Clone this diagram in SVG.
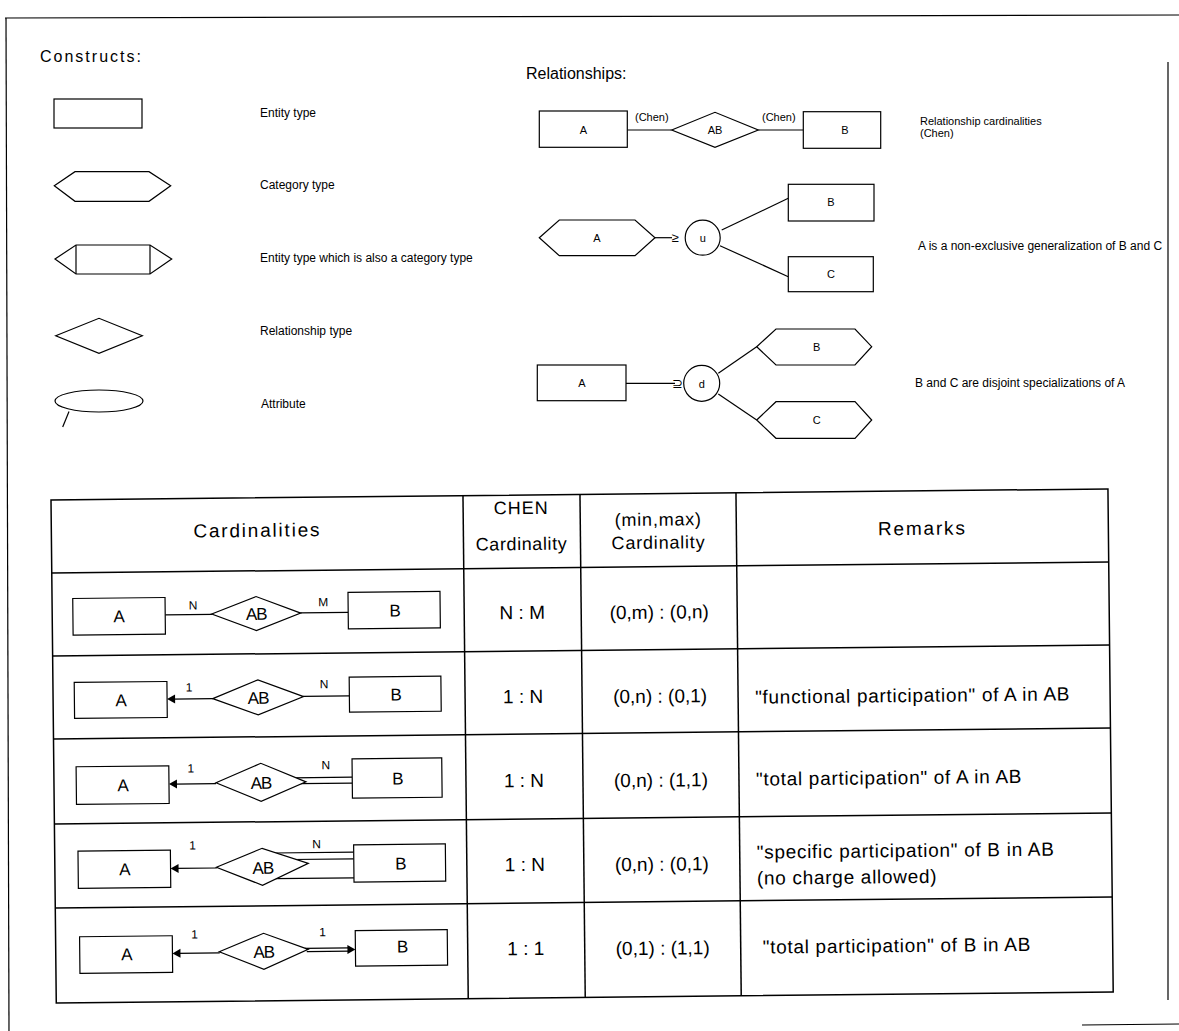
<svg xmlns="http://www.w3.org/2000/svg" width="1179" height="1031" viewBox="0 0 1179 1031">
<style>
text{font-family:"Liberation Sans",Arial,Helvetica,sans-serif;fill:#000}
.ln{stroke:#000;stroke-width:1.2;fill:none}
.sh{fill:#fff;stroke:#000;stroke-width:1.2}
.tb{stroke:#000;stroke-width:1.5;fill:none}
.title{font-size:16px;letter-spacing:2px}
.lbl{font-size:12px}
.sm{font-size:11px}
.c{text-anchor:middle}
.big{font-size:17px}
.card{font-size:12px}
.hd{font-size:19px;letter-spacing:1.8px}
.cell{font-size:19px}
.rm{font-size:19px;letter-spacing:0.7px}
</style>
<defs>
<path id="ahL" d="M0,0 L8,-4.5 L8,4.5 Z"/>
<path id="ahR" d="M0,0 L-8,-4.5 L-8,4.5 Z"/>
</defs>
<rect x="0" y="0" width="1179" height="1031" fill="#fff"/>

<!-- page frame -->
<g id="frame">
<line class="ln" x1="5" y1="18" x2="1179" y2="15"/>
<line class="ln" x1="6" y1="18" x2="9" y2="1031"/>
<line class="ln" x1="1168" y1="62" x2="1168" y2="1000" stroke-width="1"/>
<line class="ln" x1="1082" y1="1025" x2="1179" y2="1024"/>
</g>

<!-- Constructs -->
<text class="title" x="40" y="62">Constructs:</text>
<g id="c-entity"><rect class="sh" x="54" y="99" width="88" height="29"/></g>
<text class="lbl" x="260" y="117">Entity type</text>
<g id="c-category"><polygon class="sh" points="54.3,185.7 75,171.7 149,171.7 170.7,185.7 149,201.3 75,201.3"/></g>
<text class="lbl" x="260" y="189">Category type</text>
<g id="c-entcat"><polygon class="sh" points="55,259 76,245 150,245 171.7,259 150,274 76,274"/><line class="ln" x1="76" y1="245" x2="76" y2="274"/><line class="ln" x1="150" y1="245" x2="150" y2="274"/></g>
<text class="lbl" x="260" y="262">Entity type which is also a category type</text>
<g id="c-rel"><polygon class="sh" points="55.7,335.7 99,318.3 142.3,335.7 99,353.3"/></g>
<text class="lbl" x="260" y="335">Relationship type</text>
<g id="c-attr"><ellipse class="sh" cx="99" cy="401" rx="44" ry="11"/><line class="ln" x1="69" y1="411.5" x2="62.7" y2="427"/></g>
<text class="lbl" x="261" y="408">Attribute</text>

<!-- Relationships -->
<text class="title" x="526" y="79" style="letter-spacing:0px">Relationships:</text>

<g id="connectors">
<line class="ln" x1="627.3" y1="130" x2="671.7" y2="130"/>
<line class="ln" x1="758.3" y1="130" x2="803.3" y2="130"/>
<line class="ln" x1="655" y1="237.7" x2="672" y2="237.7"/>
<line class="ln" x1="721.7" y1="230" x2="788.3" y2="198.3"/>
<line class="ln" x1="720" y1="245.7" x2="788.3" y2="276.7"/>
<line class="ln" x1="626" y1="383.3" x2="675" y2="383.3"/>
<line class="ln" x1="718.3" y1="373.3" x2="756.7" y2="346.7"/>
<line class="ln" x1="718.3" y1="394" x2="756.7" y2="420"/>
</g>
<text class="sm" x="635" y="121">(Chen)</text>
<text class="sm" x="762" y="121">(Chen)</text>
<text x="675" y="242" style="font-size:13px" class="c">≥</text>
<text x="677" y="388" style="font-size:13px" class="c">⊇</text>

<g id="r1-A"><rect class="sh" x="539.3" y="111" width="88" height="36.3"/><text class="sm c" x="583.3" y="133.5">A</text></g>
<g id="r1-AB"><polygon class="sh" points="671.7,130 715,112.3 758.3,130 715,147.3"/><text class="sm c" x="715" y="134">AB</text></g>
<g id="r1-B"><rect class="sh" x="803.3" y="111.7" width="77.4" height="36.6"/><text class="sm c" x="845" y="134">B</text></g>
<text class="sm" x="920" y="125">Relationship cardinalities</text>
<text class="sm" x="920" y="137">(Chen)</text>

<g id="r2-A"><polygon class="sh" points="539.3,237.7 559.3,220 635,220 655,237.7 635,255.7 559.3,255.7"/><text class="sm c" x="597" y="241.5">A</text></g>
<g id="r2-u"><circle class="sh" cx="702.7" cy="237.7" r="17.5"/><text class="sm c" x="702.7" y="241.5">u</text></g>
<g id="r2-B"><rect class="sh" x="788.3" y="184.3" width="85.7" height="36.7"/><text class="sm c" x="831" y="206">B</text></g>
<g id="r2-C"><rect class="sh" x="788.3" y="256.7" width="85" height="35"/><text class="sm c" x="831" y="278">C</text></g>
<text class="lbl" x="918" y="250">A is a non-exclusive generalization of B and C</text>

<g id="r3-A"><rect class="sh" x="537.3" y="365" width="88.7" height="35.7"/><text class="sm c" x="582" y="387">A</text></g>
<g id="r3-d"><circle class="sh" cx="701.7" cy="383.3" r="18"/><text class="sm c" x="701.7" y="387.5">d</text></g>
<g id="r3-B"><polygon class="sh" points="756.7,346.7 776,329 855,329 871.7,346.7 855,365 776,365"/><text class="sm c" x="816.7" y="351">B</text></g>
<g id="r3-C"><polygon class="sh" points="756.7,420 776,401.7 855,401.7 871.7,420 855,438.3 776,438.3"/><text class="sm c" x="816.7" y="424">C</text></g>
<text class="lbl" x="915" y="387">B and C are disjoint specializations of A</text>

<!-- Table -->
<g id="table" transform="rotate(-0.6 51 500)">
<g id="grid">
<rect class="tb" x="51" y="500" width="1057" height="503"/>
<line class="tb" x1="51" y1="573" x2="1108" y2="573"/>
<line class="tb" x1="51" y1="656" x2="1108" y2="656"/>
<line class="tb" x1="51" y1="739" x2="1108" y2="739"/>
<line class="tb" x1="51" y1="824" x2="1108" y2="824"/>
<line class="tb" x1="51" y1="908" x2="1108" y2="908"/>
<line class="tb" x1="463" y1="500" x2="463" y2="1003"/>
<line class="tb" x1="580" y1="500" x2="580" y2="1003"/>
<line class="tb" x1="736" y1="500" x2="736" y2="1003"/>
</g>
<text class="hd c" x="257" y="539">Cardinalities</text>
<text class="hd c" x="521" y="519" style="letter-spacing:1px;font-size:18px">CHEN</text>
<text class="hd c" x="521" y="555" style="letter-spacing:0.6px;font-size:18px">Cardinality</text>
<text class="hd c" x="658" y="532" style="letter-spacing:0.8px;font-size:18px">(min,max)</text>
<text class="hd c" x="658" y="555" style="letter-spacing:0.8px;font-size:18px">Cardinality</text>
<text class="hd c" x="922" y="544">Remarks</text>

<!-- row 1 -->
<g id="t1-conn">
<line class="ln" x1="164" y1="616" x2="211" y2="616"/>
<line class="ln" x1="299" y1="615.5" x2="347" y2="615.5"/>
</g>
<g id="t1-A"><rect class="sh" x="71.7" y="598.7" width="92.3" height="36.6"/><text class="big c" x="118" y="623">A</text></g>
<g id="t1-AB"><polygon class="sh" points="210.5,615.7 255,598.7 299.5,615.7 255,632.7"/><text class="big c" x="255" y="622" style="letter-spacing:-1px">AB</text></g>
<g id="t1-B"><rect class="sh" x="347" y="595.5" width="92" height="36.5"/><text class="big c" x="394" y="620">B</text></g>
<text class="card c" x="192" y="611">N</text>
<text class="card c" x="322" y="609">M</text>
<text class="cell c" x="521" y="624">N : M</text>
<text class="cell c" x="658" y="625">(0,m) : (0,n)</text>

<!-- row 2 -->
<g id="t2-conn">
<line class="ln" x1="211" y1="700.3" x2="170" y2="700.3"/>
<use href="#ahL" x="165" y="700.3"/>
<line class="ln" x1="301" y1="699" x2="347.3" y2="699"/>
</g>
<g id="t2-A"><rect class="sh" x="72.3" y="682.7" width="92.7" height="36"/><text class="big c" x="119" y="707">A</text></g>
<g id="t2-AB"><polygon class="sh" points="210.7,700.3 256,682 301.5,699.2 256,717"/><text class="big c" x="256" y="706" style="letter-spacing:-1px">AB</text></g>
<g id="t2-B"><rect class="sh" x="347.3" y="680.3" width="91.7" height="35"/><text class="big c" x="394" y="704">B</text></g>
<text class="card c" x="187" y="693">1</text>
<text class="card c" x="322" y="691">N</text>
<text class="cell c" x="521" y="708">1 : N</text>
<text class="cell c" x="658" y="709">(0,n) : (0,1)</text>
<text class="rm" x="753" y="711">"functional participation" of A in AB</text>

<!-- row 3 -->
<g id="t3-conn">
<line class="ln" x1="213" y1="785.3" x2="171" y2="785.3"/>
<use href="#ahL" x="166" y="785.3"/>
<line class="ln" x1="290" y1="780.3" x2="349.3" y2="780.3"/>
<line class="ln" x1="296" y1="786.3" x2="349.3" y2="786.3"/>
</g>
<g id="t3-A"><rect class="sh" x="73.3" y="767" width="92.7" height="37.7"/><text class="big c" x="120" y="792">A</text></g>
<g id="t3-AB"><polygon class="sh" points="213,784.5 258,765.5 303,784.5 258,803.5"/><text class="big c" x="258" y="791" style="letter-spacing:-1px">AB</text></g>
<g id="t3-B"><rect class="sh" x="349.3" y="762" width="89.7" height="39.3"/><text class="big c" x="395" y="788">B</text></g>
<text class="card c" x="188" y="774">1</text>
<text class="card c" x="323" y="772">N</text>
<text class="cell c" x="521" y="792">1 : N</text>
<text class="cell c" x="658" y="793">(0,n) : (1,1)</text>
<text class="rm" x="753" y="793">"total participation" of A in AB</text>

<!-- row 4 -->
<g id="t4-conn">
<line class="ln" x1="213" y1="869.7" x2="171.7" y2="869.7"/>
<use href="#ahL" x="166.7" y="869.7"/>
<line class="ln" x1="270" y1="855.3" x2="350" y2="855.3"/>
<line class="ln" x1="288" y1="862" x2="350" y2="862"/>
<line class="ln" x1="270" y1="881" x2="350" y2="881"/>
</g>
<g id="t4-A"><rect class="sh" x="74.3" y="851.3" width="92.4" height="37.4"/><text class="big c" x="121" y="876">A</text></g>
<g id="t4-AB"><polygon class="sh" points="212.5,869 258.5,850.5 304.5,866 258.5,887.5"/><text class="big c" x="259" y="876" style="letter-spacing:-1px">AB</text></g>
<g id="t4-B"><rect class="sh" x="350" y="848" width="91.7" height="37.3"/><text class="big c" x="397" y="873">B</text></g>
<text class="card c" x="189" y="851">1</text>
<text class="card c" x="313" y="851">N</text>
<text class="cell c" x="521" y="876">1 : N</text>
<text class="cell c" x="658" y="877">(0,n) : (0,1)</text>
<text class="rm" x="753" y="866">"specific participation" of B in AB</text>
<text class="rm" x="753" y="892">(no charge allowed)</text>

<!-- row 5 -->
<g id="t5-conn">
<line class="ln" x1="215" y1="954.7" x2="172.7" y2="954.7"/>
<use href="#ahL" x="167.7" y="954.7"/>
<line class="ln" x1="300" y1="951" x2="345" y2="951"/>
<line class="ln" x1="302" y1="954.3" x2="345" y2="954.3"/>
<use href="#ahR" x="350.7" y="952.7"/>
</g>
<g id="t5-A"><rect class="sh" x="75" y="937" width="92.7" height="36.7"/><text class="big c" x="122" y="961">A</text></g>
<g id="t5-AB"><polygon class="sh" points="214.5,953.5 259,935.5 303.5,952 259,971.5"/><text class="big c" x="259" y="960" style="letter-spacing:-1px">AB</text></g>
<g id="t5-B"><rect class="sh" x="350.7" y="933.7" width="92" height="35.6"/><text class="big c" x="398" y="956">B</text></g>
<text class="card c" x="190" y="940">1</text>
<text class="card c" x="318" y="939">1</text>
<text class="cell c" x="521" y="960">1 : 1</text>
<text class="cell c" x="658" y="961">(0,1) : (1,1)</text>
<text class="rm" x="758" y="961">"total participation" of B in AB</text>
</g>
</svg>
